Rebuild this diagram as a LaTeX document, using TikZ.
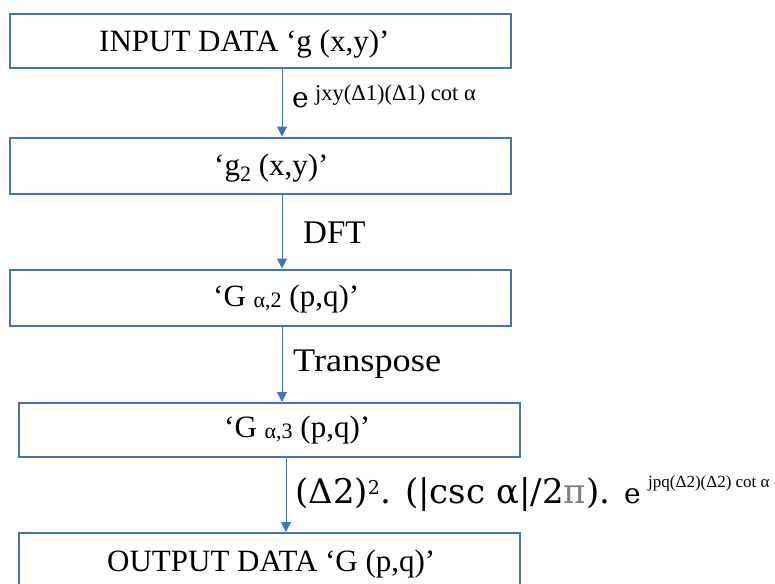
\documentclass[tikz,border=0pt]{standalone}
\usepackage{fontspec}
\setmainfont{Liberation Serif}
\newfontfamily\dvs{DejaVu Serif}
\usetikzlibrary{arrows.meta}
\definecolor{oblue}{HTML}{4472C4}
\definecolor{pigrey}{HTML}{7F7F7F}
\tikzset{
  box/.style={draw=oblue, line width=2pt, minimum width=501pt, inner sep=0pt, rectangle},
  arr/.style={draw=oblue, line width=1pt, -{Triangle[width=10pt,length=10pt]}},
  txt/.style={anchor=base west, inner sep=0pt, font=\fontsize{31}{36}\selectfont},
  lab/.style={anchor=base west, inner sep=0pt, font=\fontsize{33}{40}\selectfont},
}
\newcommand{\bsub}[1]{{\fontsize{22}{22}\selectfont #1}}
\begin{document}
\begin{tikzpicture}[x=1pt,y=-1pt]
\fill[white] (0,0) rectangle (775,583);
\useasboundingbox (0,0) rectangle (775,583);
\clip (0,0) rectangle (775,583);
% boxes
\node[box, minimum height=54pt] (b1) at (260,41) {};
\node[box, minimum height=56pt] (b2) at (260,165.5) {};
\node[box, minimum height=56pt] (b3) at (260,297.5) {};
\node[box, minimum height=54pt] (b4) at (269,430) {};
\node[box, minimum height=55pt] (b5) at (269,560.5) {};
% box texts
\node[txt] (t1) at (99,51.5) {INPUT DATA ‘g (x,y)’};
\node[txt] (t2) at (214,175.5) {‘g\raisebox{-6pt}{\bsub{2}} (x,y)’};
\node[txt] (t3) at (213,306) {‘G \raisebox{-1.5pt}{\bsub{α,2}} (p,q)’};
\node[txt] (t4) at (224,437) {‘G \raisebox{-1.5pt}{\bsub{α,3}} (p,q)’};
\node[txt] (t5) at (107,571) {OUTPUT DATA ‘G (p,q)’};
% connectors
\draw[arr] ([xshift=22pt]b1.south) -- ([xshift=22pt]b2.north);
\draw[arr] ([xshift=22pt]b2.south) -- ([xshift=22pt]b3.north);
\draw[arr] ([xshift=22pt]b3.south) -- ([xshift=13pt]b4.north);
\draw[arr] ([xshift=17pt]b4.south) -- ([xshift=17pt]b5.north);
% labels
\node[anchor=base west, inner sep=0pt, font=\dvs\fontsize{28}{32}\selectfont] (e1) at (292,107) {e};
\node[anchor=base west, inner sep=0pt, font=\fontsize{22.5}{26}\selectfont] (s1) at (315,100) {jxy(Δ1)(Δ1) cot α};
\node[lab] (l2) at (303,243) {DFT};
\node[lab] (l3) at (293,371.5) {\scalebox{1.1}[1]{Transpose}};
\node[anchor=base west, inner sep=0pt, font=\dvs\fontsize{34}{40}\selectfont] (m4) at (295,503) {(Δ2)\raisebox{9pt}{\fontsize{19}{22}\selectfont 2}. (|csc α|/2\textcolor{pigrey}{π}).};
\node[anchor=base west, inner sep=0pt, font=\dvs\fontsize{28}{32}\selectfont] (e4) at (624,503) {e};
\node[anchor=base west, inner sep=0pt, font=\fontsize{17}{20}\selectfont] (s4) at (648,487) {jpq(Δ2)(Δ2) cot α};
\end{tikzpicture}
\end{document}
